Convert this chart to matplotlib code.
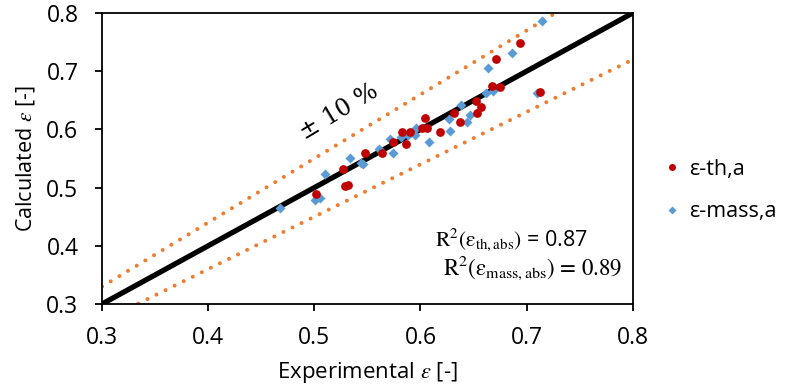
import matplotlib.pyplot as plt

# values
th_x = [0.502, 0.527, 0.529, 0.532, 0.548, 0.564, 0.574, 0.586, 0.583, 0.590,
        0.601, 0.606, 0.604, 0.618, 0.632, 0.637, 0.652, 0.657, 0.653, 0.667,
        0.675, 0.671, 0.694, 0.713]
th_y = [0.489, 0.532, 0.503, 0.504, 0.559, 0.559, 0.578, 0.575, 0.596, 0.596,
        0.602, 0.602, 0.620, 0.596, 0.628, 0.613, 0.649, 0.638, 0.628, 0.675,
        0.673, 0.721, 0.748, 0.664]

mass_x = [0.468, 0.501, 0.505, 0.510, 0.534, 0.544, 0.546, 0.561, 0.571, 0.574,
          0.582, 0.588, 0.595, 0.596, 0.608, 0.627, 0.628, 0.638, 0.644, 0.647,
          0.662, 0.668, 0.664, 0.686, 0.715, 0.710]
mass_y = [0.465, 0.479, 0.482, 0.523, 0.551, 0.542, 0.541, 0.566, 0.583, 0.559,
          0.587, 0.590, 0.590, 0.602, 0.578, 0.618, 0.597, 0.642, 0.613, 0.625,
          0.663, 0.666, 0.706, 0.731, 0.786, 0.663]

ref_x = [0.3, 0.8]
ticks = [0.3, 0.4, 0.5, 0.6, 0.7, 0.8]

plt.rcParams['font.family'] = ['Open Sans', 'DejaVu Sans']
plt.rcParams['mathtext.fontset'] = 'stix'

fig = plt.figure(figsize=(7.85, 3.89), dpi=100)
ax = fig.add_axes([0.130, 0.2185, 0.676, 0.748])

# +-10 % band
ax.plot(ref_x, [1.1 * v for v in ref_x], color='#ED7D31', lw=2.9,
        linestyle=(0, (0.01, 2.5)), dash_capstyle='round', zorder=2)
ax.plot(ref_x, [0.9 * v for v in ref_x], color='#ED7D31', lw=2.9,
        linestyle=(0, (0.01, 2.5)), dash_capstyle='round', zorder=2)
ax.plot(ref_x, ref_x, color='black', lw=3.8, zorder=3, solid_capstyle='butt')

h_mass, = ax.plot(mass_x, mass_y, 'D', color='#5B9BD5', ms=4.8, mec='none',
                  label='ε-mass,a', zorder=4)
h_th, = ax.plot(th_x, th_y, 'o', color='#C00000', ms=6.3, mec='none',
                label='ε-th,a', zorder=5)

ax.set_xlim(0.3, 0.8)
ax.set_ylim(0.3, 0.8)
ax.set_xticks(ticks)
ax.set_yticks(ticks)
ax.set_xticklabels([f"{t:.1f}" for t in ticks])
ax.set_yticklabels([f"{t:.1f}" for t in ticks])
ax.tick_params(direction='out', length=5, width=1.3, labelsize=16.5)
ax.tick_params(axis='x', pad=11)
ax.tick_params(axis='y', pad=12)
for s in ax.spines.values():
    s.set_linewidth(1.3)

ax.set_xlabel(r"Experimental $\varepsilon$ [-]", fontsize=16, labelpad=7)
ax.set_ylabel(r"Calculated $\varepsilon$ [-]", fontsize=15.5, labelpad=7)

ax.text(0.523, 0.630, "± 10 %", rotation=31, fontsize=17,
        family='DejaVu Serif', ha='center', va='center', rotation_mode='anchor')

ax.text(0.758, 0.411, r"$\mathrm{R^2(\varepsilon_{th,abs})}$ = 0.87",
        fontsize=15.5, ha='right', va='center')
ax.text(0.79, 0.362, r"$\mathrm{R^2(\varepsilon_{mass,abs})}$ = 0.89",
        fontsize=16.5, family='STIXGeneral', ha='right', va='center')

fig.legend(handles=[h_th, h_mass], loc='center left',
           bbox_to_anchor=(0.818, 0.51), frameon=False, fontsize=15.5,
           handletextpad=0.3, labelspacing=1.0, handlelength=1.0,
           markerscale=0.8)

fig.savefig("out.png", dpi=100)
